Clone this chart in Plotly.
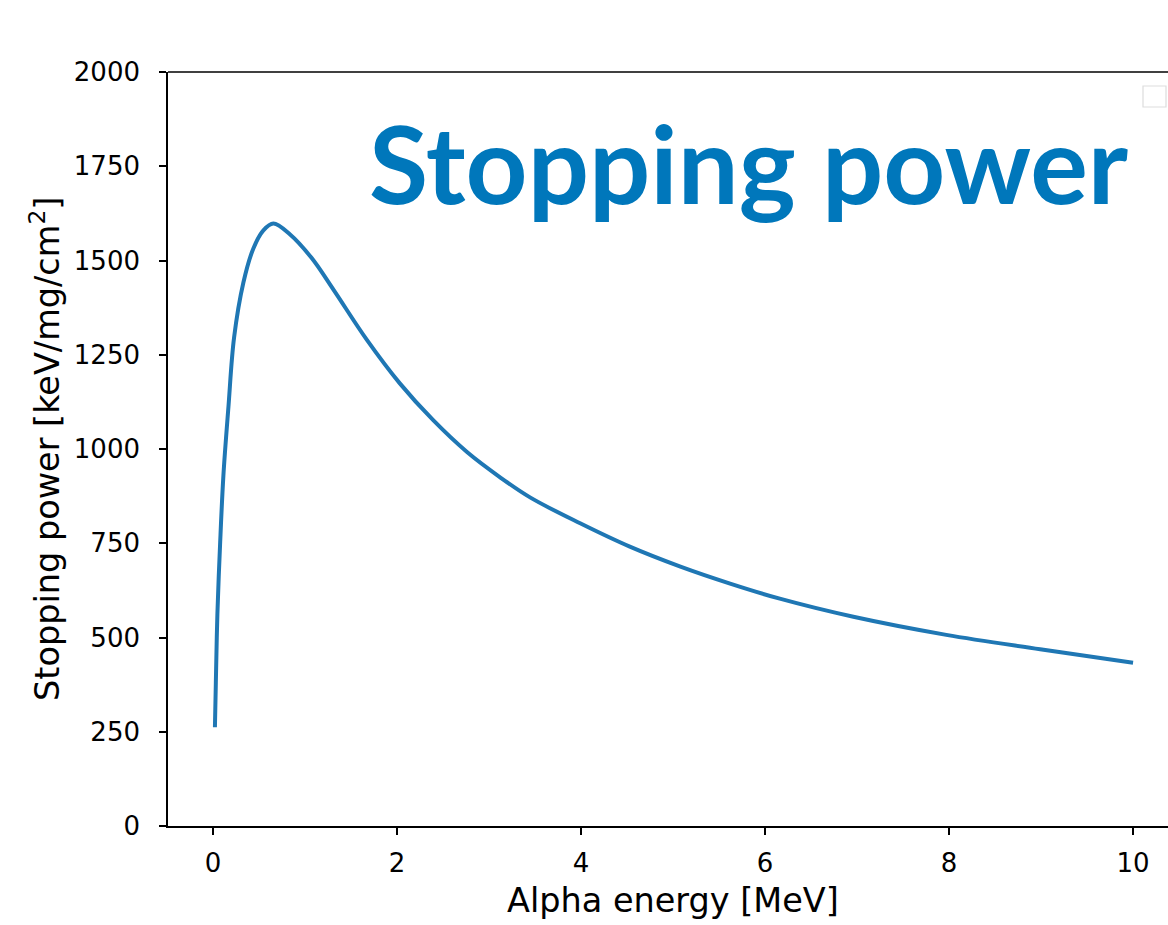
import plotly.graph_objects as go

# Data
energy_mev = [0.02, 0.03, 0.047, 0.076, 0.112, 0.167, 0.228, 0.329, 0.438, 0.547, 0.655,
              0.837, 1.07, 1.31, 1.67, 2.03, 2.39, 2.76, 3.12, 3.45, 3.99, 4.53,
              5.08, 5.62, 6.16, 6.96, 7.97, 8.99, 10.0]
stopping_power = [262, 380, 563, 746, 929, 1112, 1295, 1441, 1532, 1580, 1598,
                  1569, 1507, 1422, 1290, 1174, 1077, 992, 925, 871, 803, 741,
                  688, 643, 603, 555, 507, 469, 433]
x_ticks = [0, 2, 4, 6, 8, 10]
y_ticks = [0, 250, 500, 750, 1000, 1250, 1500, 1750, 2000]

W, H = 1168, 925
L, R, T, B = 168, 0, 72, 925 - 826


def px(xp):
    return (xp - L) / (W - L - R)


def py(yp):
    return ((H - B) - yp) / (H - T - B)


fig = go.Figure()
fig.add_trace(go.Scatter(
    x=energy_mev, y=stopping_power, mode="lines",
    line=dict(color="#1f77b4", width=4, shape="spline", smoothing=1.0),
    showlegend=False, hoverinfo="x+y",
))

axis_common = dict(
    showgrid=False, zeroline=False, showline=True, linecolor="black", linewidth=1.6,
    ticks="outside", ticklen=7, tickwidth=1.6, tickcolor="black",
    tickfont=dict(family="DejaVu Sans", size=26, color="black"),
)

fig.update_layout(
    width=W, height=H,
    margin=dict(l=L, r=R, t=T, b=B, pad=0),
    paper_bgcolor="white", plot_bgcolor="white",
    xaxis=dict(range=[-0.49, 10.38], tickvals=x_ticks, ticklabelstandoff=6, **axis_common),
    yaxis=dict(range=[0, 2000], tickvals=y_ticks, ticklabelstandoff=14, **axis_common),
    annotations=[
        dict(text="Alpha energy [MeV]", xref="paper", yref="paper",
             x=px(673), y=py(900),
             xanchor="center", yanchor="middle", showarrow=False,
             font=dict(family="DejaVu Sans", size=33.5, color="black")),
        dict(text="Stopping power [keV/mg/cm<sup>2</sup>]", xref="paper", yref="paper",
             x=px(45), y=py(449),
             xanchor="center", yanchor="middle", textangle=-90, showarrow=False,
             font=dict(family="DejaVu Sans", size=33.5, color="black")),
        dict(text="<b>Stopping power</b>", xref="paper", yref="paper",
             x=px(748), y=py(162),
             xanchor="center", yanchor="middle", showarrow=False,
             font=dict(family="Lato", size=108, color="#0077BB", weight=900)),
    ],
    shapes=[
        dict(type="line", xref="paper", yref="paper", x0=0, x1=1, y0=1, y1=1,
             line=dict(color="black", width=1.6)),
        dict(type="rect", xref="paper", yref="paper",
             x0=px(1143), x1=px(1166), y0=py(107), y1=py(86),
             line=dict(color="#dddddd", width=1.2), fillcolor="rgba(255,255,255,0.8)"),
    ],
)

fig.write_html(
    "out.html",
    config={"displayModeBar": False},
    post_script=(
        "document.documentElement.style.margin='0';"
        "document.documentElement.style.overflow='hidden';"
        "document.body.style.margin='0';"
        "document.body.style.overflow='hidden';"
    ),
)
